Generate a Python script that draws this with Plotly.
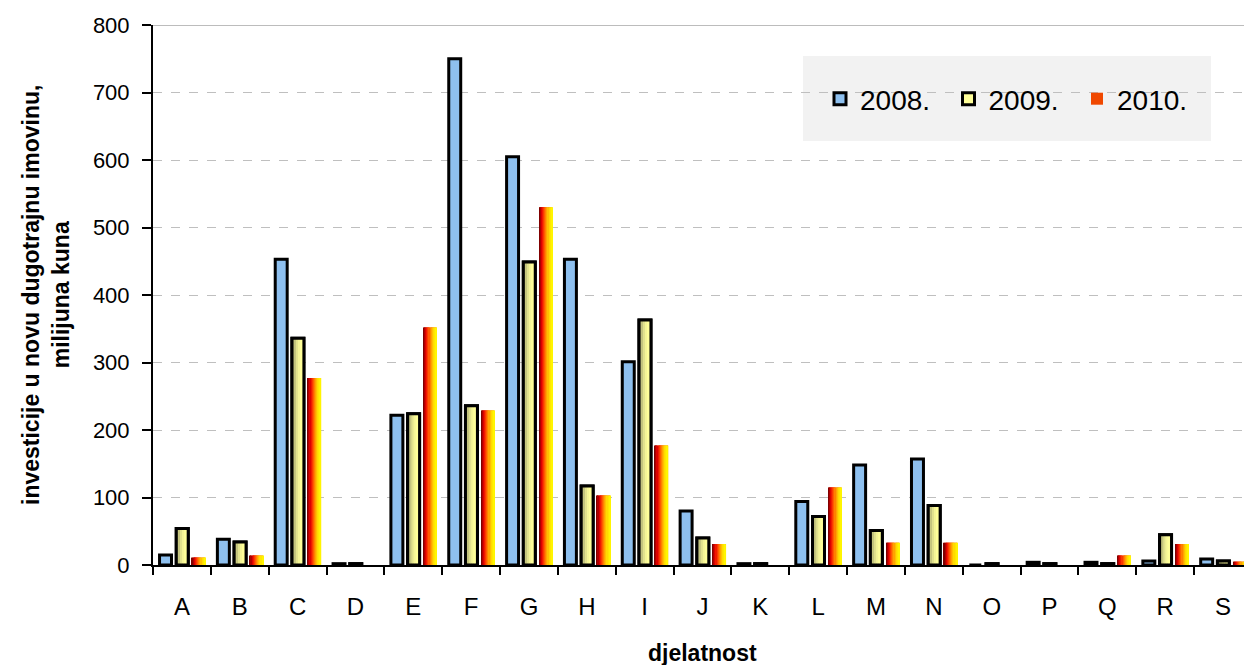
import plotly.graph_objects as go

categories = ["A", "B", "C", "D", "E", "F", "G", "H", "I", "J", "K", "L", "M", "N", "O", "P", "Q", "R", "S"]
v2008 = [15, 38, 453, 2, 222, 750, 605, 453, 301, 80, 2, 94, 148, 157, 0, 4, 4, 6, 9]
v2009 = [54, 34, 336, 2, 224, 236, 449, 117, 363, 40, 2, 72, 51, 88, 2, 2, 2, 45, 6]
v2010 = [11, 14, 277, 0, 352, 229, 530, 103, 177, 31, 0, 115, 33, 33, 0, 0, 14, 31, 5]
series_names = ["2008.", "2009.", "2010."]

FONT = "Liberation Sans, Arial, sans-serif"
# page body has an 8px margin: size the figure so it fills the 1252x665 window
W, H = 1244, 657
ML, MR, MT, MB = 145, 0, 17, 100
PW = W - ML - MR
PH = H - MT - MB
X0S, Y0S = 153, 565  # plot origin in screen pixels


def px(x):
    return (x - X0S) / PW


def py(y):
    return (Y0S - y) / PH


def interp(stops, n):
    out = []
    for i in range(n):
        t = i / (n - 1) * (len(stops) - 1)
        k = min(int(t), len(stops) - 2)
        f = t - k
        a = stops[k]
        b = stops[k + 1]
        c = [round(a[j] + (b[j] - a[j]) * f) for j in range(3)]
        out.append("rgb(%d,%d,%d)" % tuple(c))
    return out


fig = go.Figure()

BW = 0.207
OFF_B = -0.387
OFF_Y = -0.098
OFF_R = 0.174
RW = 0.231

# 2008 - blue with black outline
fig.add_trace(go.Bar(x=categories, y=v2008, name=series_names[0], width=BW, offset=OFF_B,
                     marker=dict(color="#8EC0EF", line=dict(color="black", width=3)),
                     legendrank=1))

# 2009 - yellow gradient with outline
fig.add_trace(go.Bar(x=categories, y=v2009, name=series_names[1], width=BW, offset=OFF_Y,
                     marker=dict(color="#FFFF99", line=dict(color="black", width=3)),
                     legendrank=2))
ycols = ["#A3A36A", "#C4C47E", "#E2E28D", "#F5F596", "#FFFF99", "#FFFF99"]
n = len(ycols)
for i, c in enumerate(ycols):
    fig.add_trace(go.Bar(x=categories, y=v2009, width=BW / n + 0.004, offset=OFF_Y + i * BW / n,
                         marker=dict(color=c, line=dict(width=0)), showlegend=False,
                         hoverinfo="skip"))
fig.add_trace(go.Bar(x=categories, y=v2009, width=BW, offset=OFF_Y,
                     marker=dict(color="rgba(0,0,0,0)", line=dict(color="black", width=3)),
                     showlegend=False, hoverinfo="skip"))

# 2010 - red/yellow horizontal gradient
fig.add_trace(go.Bar(x=categories, y=v2010, name=series_names[2], width=RW, offset=OFF_R,
                     marker=dict(color="#F04800", line=dict(width=0)), legendrank=3))
rcols = interp([(128, 0, 0), (230, 0, 0), (255, 70, 0), (255, 150, 0), (255, 215, 0), (255, 245, 0)], 12)
n = len(rcols)
for i, c in enumerate(rcols):
    fig.add_trace(go.Bar(x=categories, y=v2010, width=RW / n + 0.003, offset=OFF_R + i * RW / n,
                         marker=dict(color=c, line=dict(width=0)), showlegend=False,
                         hoverinfo="skip"))

# legend background box
fig.add_shape(type="rect", xref="paper", yref="paper", x0=px(803), x1=px(1211), y0=py(141), y1=py(56),
              fillcolor="#F2F2F2", line=dict(width=0), layer="below")
# top solid line at 800
fig.add_shape(type="line", xref="paper", yref="y", x0=0, x1=1, y0=800, y1=800,
              line=dict(color="#A6A6A6", width=1.5))

fig.update_layout(
    width=W, height=H,
    margin=dict(l=ML, r=MR, t=MT, b=MB),
    paper_bgcolor="white", plot_bgcolor="white",
    barmode="overlay",
    font=dict(family=FONT, size=22, color="black"),
    showlegend=True,
    legend=dict(orientation="h", x=px(820), xanchor="left", y=py(99), yanchor="middle",
                bgcolor="rgba(0,0,0,0)", font=dict(size=28, family=FONT),
                entrywidth=83.5, entrywidthmode="pixels", itemwidth=30,
                traceorder="normal"),
    xaxis=dict(type="category", range=[-0.5, 18.5], showline=True, linecolor="black", linewidth=2,
               ticks="outside", ticklen=8, tickwidth=2, tickcolor="black", tickson="boundaries",
               tickfont=dict(size=24), showgrid=False, zeroline=False, ticklabelstandoff=19),
    yaxis=dict(range=[0, 800], dtick=100, showline=True, linecolor="black", linewidth=2,
               ticks="outside", ticklen=9, tickwidth=2, tickcolor="black",
               tickfont=dict(size=22), showgrid=True, gridcolor="#BFBFBF", griddash="dash",
               gridwidth=1, zeroline=False, ticklabelstandoff=8),
    annotations=[
        dict(text="<b>investicije u novu dugotrajnu imovinu,<br>milijuna kuna</b>", xref="paper",
             yref="paper", x=px(46), y=0.5, xanchor="center", yanchor="middle", textangle=-90,
             showarrow=False, font=dict(size=23, family=FONT)),
        dict(text="<b>djelatnost</b>", xref="paper", yref="paper", x=0.5, y=py(653),
             xanchor="center", yanchor="middle", showarrow=False, font=dict(size=23, family=FONT)),
    ],
)

fig.write_html("out.html")
